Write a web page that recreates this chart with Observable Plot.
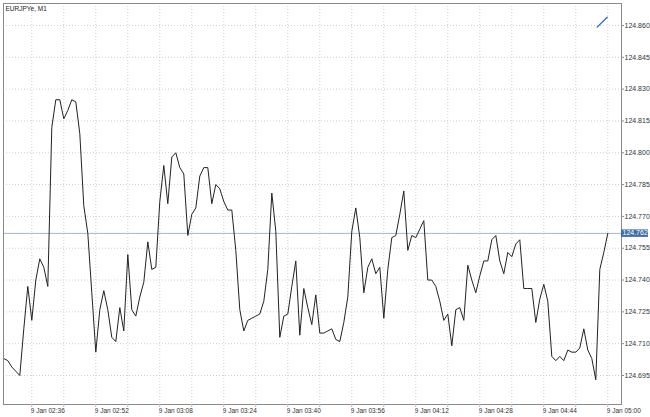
<!DOCTYPE html>
<html>
<head>
<meta charset="utf-8">
<script src="https://cdn.jsdelivr.net/npm/d3@7"></script>
<script src="https://cdn.jsdelivr.net/npm/@observablehq/plot@0.6"></script>
<style>
  html, body { margin: 0; padding: 0; background: #fff; }
  #chart svg { display: block; }
</style>
</head>
<body>
<div id="chart"></div>
<script>
// ---- data ----
const symbolTitle = "EURJPYe, M1";
const firstBar = "2019-01-09T02:29:00Z"; // M1 bars, one per minute
const closes = [
  124.703, 124.702, 124.699, 124.697, 124.695, 124.717, 124.737, 124.721, 124.740, 124.750,
  124.746, 124.737, 124.812, 124.825, 124.825, 124.816, 124.820, 124.825, 124.824, 124.809,
  124.775, 124.762, 124.734, 124.706, 124.726, 124.735, 124.726, 124.713, 124.711, 124.727,
  124.716, 124.752, 124.726, 124.723, 124.732, 124.739, 124.758, 124.745, 124.746, 124.777,
  124.794, 124.776, 124.798, 124.800, 124.793, 124.790, 124.761, 124.771, 124.774, 124.789,
  124.793, 124.793, 124.776, 124.785, 124.783, 124.777, 124.773, 124.773, 124.754, 124.726,
  124.716, 124.721, 124.722, 124.723, 124.724, 124.730, 124.745, 124.781, 124.763, 124.713,
  124.723, 124.724, 124.737, 124.749, 124.714, 124.736, 124.727, 124.719, 124.733, 124.715,
  124.715, 124.716, 124.717, 124.712, 124.711, 124.720, 124.732, 124.763, 124.774, 124.760,
  124.734, 124.746, 124.750, 124.743, 124.746, 124.722, 124.745, 124.760, 124.761, 124.771,
  124.782, 124.754, 124.761, 124.760, 124.764, 124.768, 124.740, 124.740, 124.737, 124.730,
  124.721, 124.724, 124.709, 124.726, 124.727, 124.721, 124.747, 124.740, 124.734, 124.742,
  124.749, 124.749, 124.759, 124.761, 124.749, 124.743, 124.753, 124.751, 124.757, 124.759,
  124.736, 124.736, 124.736, 124.720, 124.731, 124.738, 124.730, 124.704, 124.702, 124.704,
  124.702, 124.707, 124.706, 124.706, 124.708, 124.717, 124.707, 124.703, 124.693, 124.745,
  124.753, 124.762
];
const priceTicks = [124.695, 124.710, 124.725, 124.740, 124.755, 124.770, 124.785, 124.800, 124.815, 124.830, 124.845, 124.860];
const timeLabels = ["02:36", "02:52", "03:08", "03:24", "03:40", "03:56", "04:12", "04:28", "04:44", "05:00"];
const timeGrid = ["02:36", "02:44", "02:52", "03:00", "03:08", "03:16", "03:24", "03:32", "03:40", "03:48", "03:56", "04:04", "04:12", "04:20", "04:28", "04:36", "04:44", "04:52", "05:00"];
const lastPrice = 124.762;
const xDomain = ["2019-01-09T02:28:55.5Z", "2019-01-09T05:03:25.5Z"];
const yDomain = [124.68133, 124.87037];
// small blue chart object at top right (time, price)
const markerTimes = ["2019-01-09T04:57:21Z", "2019-01-09T04:59:51Z"];
const markerPrices = [124.8592, 124.8639];

// ---- build tables ----
const t0 = new Date(firstBar).getTime();
const bars = closes.map((c, i) => ({time: new Date(t0 + i * 60000), close: c}));
const toDate = hm => new Date(`2019-01-09T${hm}:00Z`);
const labelDates = timeLabels.map(toDate);
const gridDates = timeGrid.map(toDate);
const marker = markerTimes.map((t, i) => ({time: new Date(t), price: markerPrices[i]}));
const fmt = d3.utcFormat("%-d %b %H:%M");

const FONT = "'Liberation Sans', Arial, sans-serif";
const ML = 3, MR = 29, MT = 3, MB = 13, W = 650, H = 417;

function priceTag(index, scales, values, dim) {
  const yy = scales.y(lastPrice);
  const x0 = dim.width - dim.marginRight;
  const g = d3.create("svg:g");
  g.append("rect")
    .attr("x", x0).attr("y", yy - 3.5)
    .attr("width", 27).attr("height", 7.5)
    .attr("fill", "#3f6eaa");
  g.append("text")
    .attr("x", x0 + 1.5).attr("y", yy)
    .attr("dy", "0.35em")
    .attr("text-anchor", "start")
    .attr("fill", "#fff")
    .attr("font-size", 7)
    .attr("font-family", FONT)
    .text(d3.format(".3f")(lastPrice));
  return g.node();
}

const chart = Plot.plot({
  width: W,
  height: H,
  marginLeft: ML,
  marginRight: MR,
  marginTop: MT,
  marginBottom: MB,
  style: {fontFamily: FONT, background: "#fff"},
  x: {type: "utc", domain: xDomain.map(d => new Date(d)), axis: null},
  y: {domain: yDomain, axis: null},
  marks: [
    Plot.gridY(priceTicks, {stroke: "#cfcfcf", strokeOpacity: 1, strokeDasharray: "1,2"}),
    Plot.gridX(gridDates, {stroke: "#cfcfcf", strokeOpacity: 1, strokeDasharray: "1,2"}),
    Plot.ruleY([lastPrice], {stroke: "#a3b6d3", strokeWidth: 1}),
    Plot.line(bars, {x: "time", y: "close", stroke: "#222", strokeWidth: 1}),
    Plot.line(marker, {x: "time", y: "price", stroke: "#2a63c0", strokeWidth: 1.2}),
    Plot.frame({stroke: "#8a8a8a"}),
    Plot.axisY({anchor: "right", ticks: priceTicks, tickFormat: d3.format(".3f"), tickSize: 2, tickPadding: 1, fontSize: 7, fill: "#333", stroke: "#8a8a8a"}),
    Plot.axisX({ticks: gridDates, tickFormat: () => "", tickSize: 3, stroke: "#bdbdbd"}),
    Plot.axisX({ticks: labelDates, tickFormat: fmt, tickSize: 0, tickPadding: 4, textAnchor: "start", dx: -1, fontSize: 6.5, fill: "#333"}),
    Plot.text([symbolTitle], {frameAnchor: "top-left", dx: 2, dy: 3, fontSize: 6.5, fill: "#222", textAnchor: "start", lineAnchor: "top"}),
    priceTag
  ]
});
document.getElementById("chart").appendChild(chart);
</script>
</body>
</html>
